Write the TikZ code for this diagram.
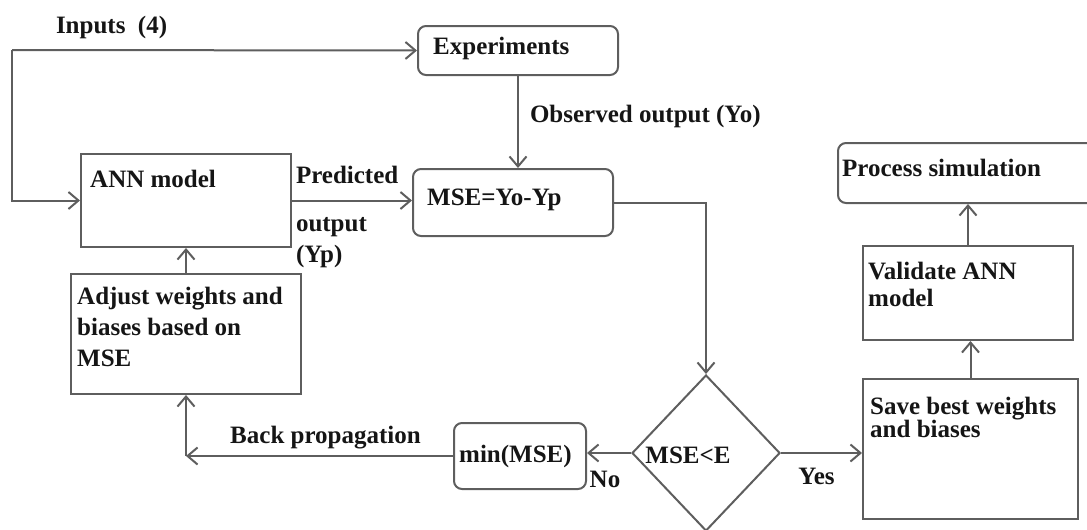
\documentclass[tikz,border=0pt]{standalone}
\usepackage{fontspec}
\setmainfont{Liberation Serif}
\usetikzlibrary{arrows.meta, shapes.geometric}
\definecolor{lncol}{HTML}{5E5E5E}
\definecolor{txcol}{HTML}{151515}
\newcommand{\lbfont}{\fontsize{25}{27}\selectfont\bfseries}

\begin{document}
\begin{tikzpicture}[x=1pt, y=-1pt,
  box/.style={draw=lncol, line width=2pt, anchor=north west, inner sep=0pt},
  rbox/.style={box, rounded corners=8pt},
  intext/.style={anchor=north west, inner sep=0pt, align=left, font=\lbfont, text=txcol},
  lbl/.style={inner sep=0pt, font=\lbfont, text=txcol},
  arr/.style={draw=lncol, line width=2pt, -{Straight Barb[length=10pt,width=17pt]}}]
  \useasboundingbox (0,0) rectangle (1087,530);

  % boxes
  \node[rbox, minimum width=200pt, minimum height=49pt, label={[intext, xshift=16pt, yshift=-11.5pt]north west:Experiments}] (expt) at (417,25) {};
  \node[box, minimum width=210pt, minimum height=93pt, label={[intext, xshift=10pt, yshift=-17pt]north west:ANN model}] (ann) at (80,153) {};
  \node[rbox, minimum width=200pt, minimum height=67pt, label={[intext, xshift=15pt, yshift=-21pt]north west:{MSE=Yo-Yp}}] (mse) at (412,168) {};
  \node[box, minimum width=230pt, minimum height=120pt, label={[intext, xshift=7pt, yshift=-14pt]north west:{Adjust weights and\\[4pt]biases based on\\[4pt]MSE}}] (adj) at (70,273) {};
  \node[rbox, minimum width=132pt, minimum height=66pt, label={[intext, xshift=6pt, yshift=-23pt]north west:min(MSE)}] (minb) at (453,422) {};
  \node[diamond, draw=lncol, line width=2pt, minimum width=148pt, minimum height=156pt, inner sep=0pt, label={[lbl, xshift=-18pt, yshift=-2.5pt]center:{MSE<E}}] (dec) at (706,453) {};
  \node[box, minimum width=215pt, minimum height=140pt, label={[intext, xshift=8pt, yshift=-19pt]north west:{Save best weights\\[-4pt]and biases}}] (save) at (862,378) {};
  \node[box, minimum width=210pt, minimum height=94pt, label={[intext, xshift=6pt, yshift=-17pt]north west:{Validate ANN\\model}}] (val) at (862,245) {};
  \node[rbox, minimum width=258pt, minimum height=60pt, label={[intext, xshift=5pt, yshift=-17pt]north west:Process simulation}] (proc) at (837,142) {};

  % connectors
  \coordinate (inp) at (12,50);
  \coordinate (bp) at (adj.south |- minb.west);
  \draw[arr] (inp) -- node[lbl, anchor=base west, pos=0, xshift=43pt, yshift=16pt] (inlbl) {Inputs\hspace{0.5em}(4)} (expt.west);
  \draw[arr] (inp) |- (ann.west);
  \draw[arr] (ann.east) -- node[intext, pos=0, xshift=3pt, yshift=35pt] (pred) {Predicted\\[21pt]output\\[4pt](Yp)} (ann.east -| mse.west);
  \draw[arr] (expt.south) -- node[lbl, anchor=base west, xshift=11pt] (obs) {Observed output (Yo)} (expt.south |- mse.north);
  \draw[arr] (mse.east) -| (dec.north);
  \draw[arr] (dec.west) -- node[lbl, anchor=base, xshift=-4pt, yshift=-34pt] (nolbl) {No} (dec.west -| minb.east);
  \draw[arr] (dec.east) -- node[lbl, anchor=base, xshift=-5pt, yshift=-31pt] (yeslbl) {Yes} (dec.east -| save.west);
  \draw[arr] (minb.west) -- node[lbl, anchor=base, xshift=6pt, yshift=13pt] (bplbl) {Back propagation} (bp);
  \draw[arr] (bp) -- (adj.south);
  \draw[arr] (adj.north) -- (ann.south);
  \draw[arr] (save.north) -- (save.north |- val.south);
  \draw[arr] (val.north) -- (val.north |- proc.south);
\end{tikzpicture}
\end{document}
